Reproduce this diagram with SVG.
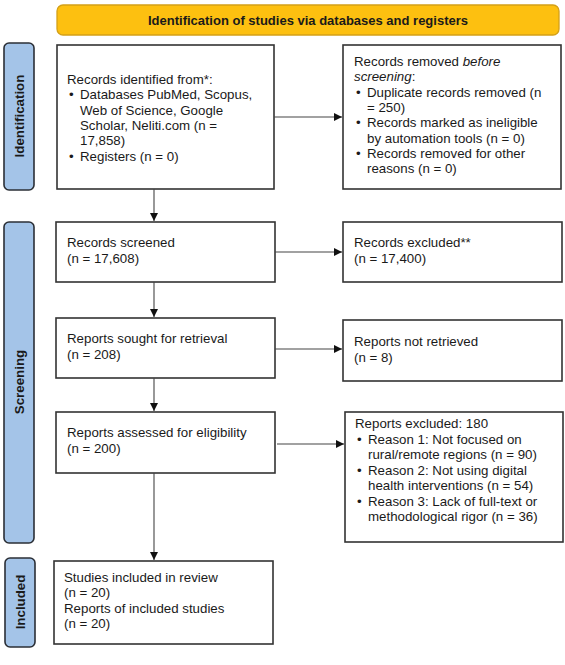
<svg xmlns="http://www.w3.org/2000/svg" width="565" height="665" viewBox="0 0 565 665">
<defs>
<marker id="ah" markerWidth="8" markerHeight="8" refX="8" refY="4" orient="auto" markerUnits="userSpaceOnUse">
<path d="M0,0 L8,4 L0,8 Z" fill="#111"/>
</marker>
<style>
.box{fill:#fff;stroke:#333;stroke-width:1.6}
.lab{fill:#a4c4e8;stroke:#2b2f36;stroke-width:1.6}
.ban{fill:#fdc010;stroke:#d4a017;stroke-width:1.3}
.t{font-family:"Liberation Sans",Arial,sans-serif;font-size:13.3px;fill:#1a1a1a}
.b{font-family:"Liberation Sans",Arial,sans-serif;font-size:13px;font-weight:bold;fill:#1a1a1a}
.lt{font-family:"Liberation Sans",Arial,sans-serif;font-size:13.3px;font-weight:bold;fill:#1a1a1a}
.c{stroke:#444;stroke-width:1.1;fill:none}
</style>
</defs>
<rect width="565" height="665" fill="#fff"/>

<g id="banner">
<rect class="ban" x="57" y="5" width="502" height="30" rx="6"/>
<text class="b" x="308" y="25" text-anchor="middle">Identification of studies via databases and registers</text>
</g>

<g id="label-identification">
<rect class="lab" x="4" y="43" width="30" height="147" rx="5"/>
<text class="lt" transform="translate(24,116) rotate(-90)" text-anchor="middle">Identification</text>
</g>
<g id="label-screening">
<rect class="lab" x="4" y="222" width="30" height="321" rx="5"/>
<text class="lt" transform="translate(24,382) rotate(-90)" text-anchor="middle">Screening</text>
</g>
<g id="label-included">
<rect class="lab" x="5" y="558" width="30" height="89" rx="5"/>
<text class="lt" transform="translate(25,602) rotate(-90)" text-anchor="middle">Included</text>
</g>

<g id="records-identified">
<rect class="box" x="57" y="45" width="217" height="144"/>
<text class="t" x="67" y="84">Records identified from*:</text>
<text class="t" x="69" y="99">•</text><text class="t" x="80" y="99">Databases PubMed, Scopus,</text>
<text class="t" x="80" y="115">Web of Science, Google</text>
<text class="t" x="80" y="130">Scholar, Neliti.com (n =</text>
<text class="t" x="80" y="145">17,858)</text>
<text class="t" x="69" y="161">•</text><text class="t" x="80" y="161">Registers (n = 0)</text>
</g>

<g id="records-removed">
<rect class="box" x="343" y="45" width="218" height="144"/>
<text class="t" x="354" y="66">Records removed <tspan font-style="italic">before</tspan></text>
<text class="t" x="354" y="81"><tspan font-style="italic">screening</tspan>:</text>
<text class="t" x="356" y="97">•</text><text class="t" x="367" y="97">Duplicate records removed (n</text>
<text class="t" x="367" y="112">= 250)</text>
<text class="t" x="356" y="127">•</text><text class="t" x="367" y="127">Records marked as ineligible</text>
<text class="t" x="367" y="143">by automation tools (n = 0)</text>
<text class="t" x="356" y="158">•</text><text class="t" x="367" y="158">Records removed for other</text>
<text class="t" x="367" y="173">reasons (n = 0)</text>
</g>

<g id="records-screened">
<rect class="box" x="56" y="222" width="219" height="60"/>
<text class="t" x="67" y="247">Records screened</text>
<text class="t" x="67" y="263">(n = 17,608)</text>
</g>

<g id="records-excluded">
<rect class="box" x="343" y="222" width="219" height="60"/>
<text class="t" x="354" y="247">Records excluded**</text>
<text class="t" x="354" y="263">(n = 17,400)</text>
</g>

<g id="reports-sought">
<rect class="box" x="56" y="318" width="219" height="60"/>
<text class="t" x="67" y="343">Reports sought for retrieval</text>
<text class="t" x="67" y="359">(n = 208)</text>
</g>

<g id="reports-not-retrieved">
<rect class="box" x="343" y="320" width="219" height="61"/>
<text class="t" x="354" y="346">Reports not retrieved</text>
<text class="t" x="354" y="362">(n = 8)</text>
</g>

<g id="reports-assessed">
<rect class="box" x="56" y="412" width="219" height="61"/>
<text class="t" x="67" y="437">Reports assessed for eligibility</text>
<text class="t" x="67" y="453">(n = 200)</text>
</g>

<g id="reports-excluded">
<rect class="box" x="345" y="412" width="218" height="130"/>
<text class="t" x="355" y="428">Reports excluded: 180</text>
<text class="t" x="357" y="444">•</text><text class="t" x="368" y="444">Reason 1: Not focused on</text>
<text class="t" x="368" y="459">rural/remote regions (n = 90)</text>
<text class="t" x="357" y="475">•</text><text class="t" x="368" y="475">Reason 2: Not using digital</text>
<text class="t" x="368" y="490">health interventions (n = 54)</text>
<text class="t" x="357" y="506">•</text><text class="t" x="368" y="506">Reason 3: Lack of full-text or</text>
<text class="t" x="368" y="521">methodological rigor (n = 36)</text>
</g>

<g id="studies-included">
<rect class="box" x="54" y="561" width="219" height="83"/>
<text class="t" x="64" y="582">Studies included in review</text>
<text class="t" x="64" y="597">(n = 20)</text>
<text class="t" x="64" y="613">Reports of included studies</text>
<text class="t" x="64" y="628">(n = 20)</text>
</g>

<g id="connectors">
<line class="c" x1="274" y1="117" x2="342" y2="117" marker-end="url(#ah)"/>
<line class="c" x1="154" y1="189" x2="154" y2="221" marker-end="url(#ah)"/>
<line class="c" x1="275" y1="252" x2="342" y2="252" marker-end="url(#ah)"/>
<line class="c" x1="154" y1="282" x2="154" y2="317" marker-end="url(#ah)"/>
<line class="c" x1="275" y1="349" x2="342" y2="349" marker-end="url(#ah)"/>
<line class="c" x1="154" y1="378" x2="154" y2="411" marker-end="url(#ah)"/>
<line class="c" x1="277" y1="444" x2="344" y2="444" marker-end="url(#ah)"/>
<line class="c" x1="154" y1="473" x2="154" y2="560" marker-end="url(#ah)"/>
</g>
</svg>
